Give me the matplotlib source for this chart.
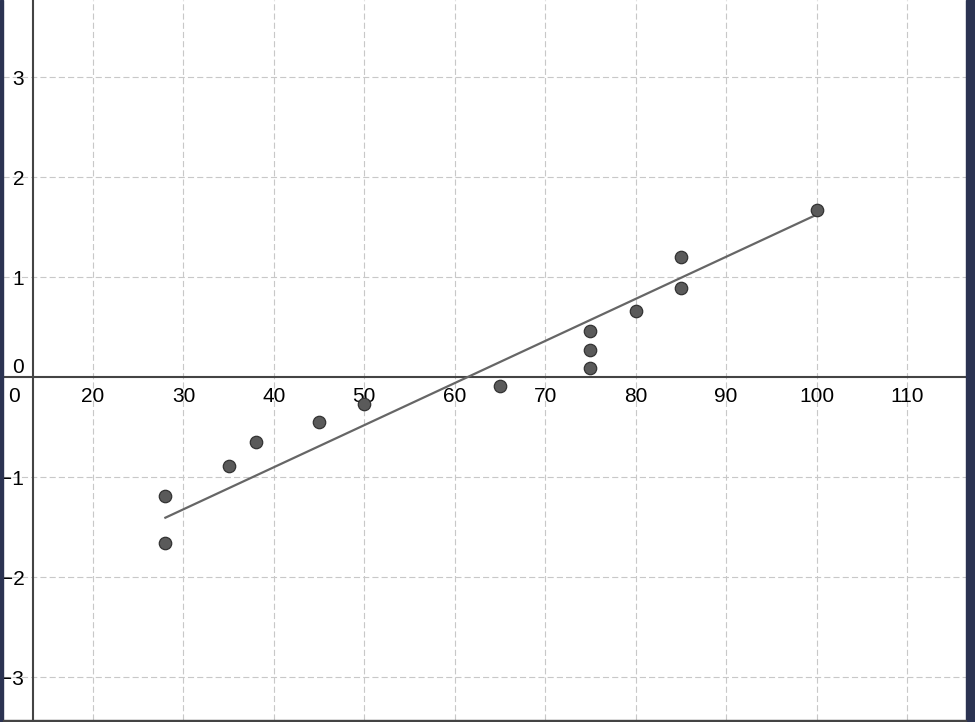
import matplotlib
matplotlib.use("Agg")
import matplotlib.pyplot as plt
import matplotlib.patches as mpatches

plt.rcParams['font.family'] = ['Liberation Sans', 'DejaVu Sans']

# sorted sample values vs. normal scores
x_vals = [28, 28, 35, 38, 45, 50, 65, 75, 75, 75, 80, 85, 85, 100]
y_vals = [-1.66, -1.19, -0.89, -0.656, -0.45, -0.27, -0.09,
          0.09, 0.267, 0.454, 0.657, 0.89, 1.194, 1.667]

# reference line endpoints
line_x = [28, 100]
line_y = [-1.41, 1.62]

x_ticks = [20, 30, 40, 50, 60, 70, 80, 90, 100, 110]
y_ticks = [-3, -2, -1, 1, 2, 3]
y_axis_at = 13.4

W, H = 975, 722
fig = plt.figure(figsize=(W / 100, H / 100), dpi=100)
fig.patch.set_facecolor("white")

# axes area in pixels: x 3..966, y 0..720 (from top)
ax = fig.add_axes([3 / W, 2 / H, 963 / W, 720 / H])
ax.set_xlim(10.05, 116.52)
ax.set_ylim(-3.433, 3.767)
for s in ax.spines.values():
    s.set_visible(False)

ax.set_xticks(x_ticks)
ax.set_yticks(y_ticks)
ax.tick_params(length=0, labelbottom=False, labelleft=False)
ax.grid(True, color="#c8c8c8", linewidth=0.8, linestyle=(0, (5.5, 2.8)), zorder=0)

# axes lines
ax.axhline(0, color="#444444", linewidth=1.5, zorder=2)
ax.axvline(y_axis_at, color="#444444", linewidth=1.5, zorder=2)

# tick labels
fs = 15
for xt in x_ticks:
    ax.text(xt, -0.10, str(xt), ha="center", va="top", fontsize=fs,
            color="black", zorder=3)
ax.text(11.3, -0.10, "0", ha="center", va="top", fontsize=fs, zorder=3)
ax.text(12.4, 0.09, "0", ha="right", va="center", fontsize=fs, zorder=3)
for yt in y_ticks:
    lab = str(yt).replace("-", "\u2212")
    ax.text(12.4, yt - 0.025, lab, ha="right", va="center", fontsize=fs,
            color="black", zorder=3)

# reference line and points
ax.plot(line_x, line_y, color="#666666", linewidth=1.6, zorder=4)
ax.scatter(x_vals, y_vals, s=80, color="#5a5a5a", edgecolors="#333333",
           linewidths=0.9, zorder=5)

# window frame
navy = "#2b3352"
fig.patches.append(mpatches.Rectangle((0, 0), 3 / W, 1, transform=fig.transFigure,
                                      color=navy, zorder=10))
fig.patches.append(mpatches.Rectangle((966 / W, 0), 9 / W, 1, transform=fig.transFigure,
                                      color=navy, zorder=10))
fig.patches.append(mpatches.Rectangle((3 / W, 0), 963 / W, 2 / H, transform=fig.transFigure,
                                      color="#444444", zorder=10))

plt.savefig("out.png", dpi=100)
